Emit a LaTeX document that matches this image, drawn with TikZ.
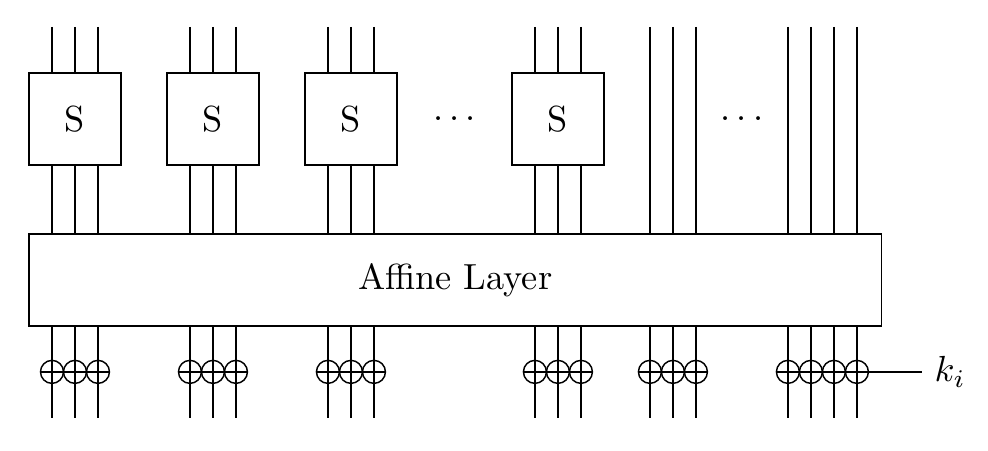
\documentclass[tikz,border=0pt]{standalone}
\usepackage{amsmath}
\usepackage{amssymb}
\usepackage{tikz}
\usetikzlibrary{shapes,calc,positioning}

\newcommand{\wiredots}{.\kern\fontdimen3\font.\kern\fontdimen3\font.}

\begin{document}
\begin{tikzpicture}[x=0.2227cm,y=0.2227cm,thin,
                    sbox/.style={draw,minimum size=0.8908cm,inner sep=0pt},
                    xor/.style={draw,circle,minimum size=0.2227cm,inner sep=0pt}]

  \useasboundingbox (-1.26,10.17) rectangle (41.7,-9.43);

  \node[sbox] (s1) at (2,5)  {S};
  \node[sbox] (s2) at (8,5)  {S};
  \node[sbox] (s3) at (14,5) {S};
  \node[sbox] (s4) at (23,5) {S};
  \node (d1) at (18.5,5) {\wiredots};
  \node (d2) at (31,5)   {\wiredots};

  \node[draw,minimum width=8.255cm,minimum height=0.8908cm] (aff) at (18.53,-2) {Affine Layer};

  \foreach \i/\s in {1/s1,2/s1,3/s1,7/s2,8/s2,9/s2,13/s3,14/s3,15/s3,22/s4,23/s4,24/s4}
  {
    \coordinate (t\i) at (\i,9);
    \draw (t\i) -- (t\i |- \s.north) (t\i |- \s.south) -- (t\i |- aff.north);
  }
  \foreach \i in {27,28,29,33,34,35,36}
  {
    \coordinate (t\i) at (\i,9);
    \draw (t\i) -- (t\i |- aff.north);
  }
  \foreach \i in {1,2,3,7,8,9,13,14,15,22,23,24,27,28,29,33,34,35,36}
  {
    \node[xor] (x\i) at (\i,-6) {};
    \coordinate (b\i) at (\i,-8);
    \draw (t\i |- aff.south) -- (b\i);
  }

  \node (k) [right=0.51cm of x36] {$k_i$};

  \begin{scope}
    \path (x1.west)  edge (x3.east)
          (x7.west)  edge (x9.east)
          (x13.west) edge (x15.east)
          (x22.west) edge (x24.east)
          (x27.west) edge (x29.east)
          (x33.west) edge (k);
  \end{scope}
\end{tikzpicture}
\end{document}
